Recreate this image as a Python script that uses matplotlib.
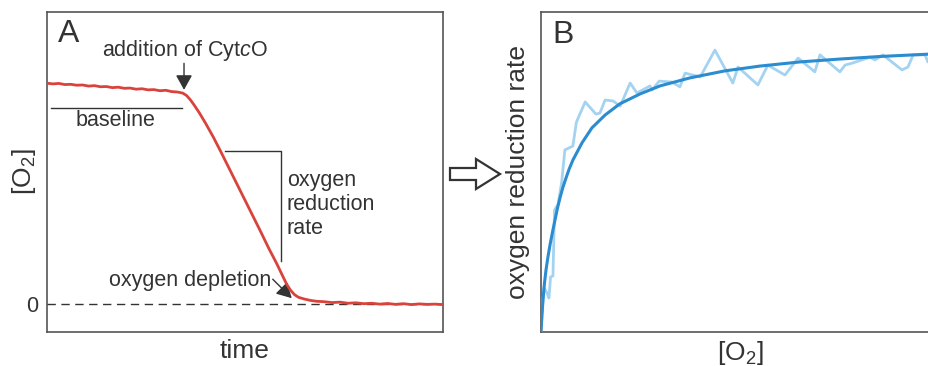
# ------------------------------------------------------------------------------
# -------------------------------------------------------------- IMPORT PACKAGES
import matplotlib as mpl
mpl.use('Agg')
import matplotlib.pyplot as plt
from matplotlib.patches import Polygon

plt.rc('font', family='Liberation Sans', size=15.5)
plt.rc('mathtext', fontset='custom', rm='Liberation Sans',
       it='Liberation Sans:italic')

# ------------------------------------------------------------------------- DATA
# panel A: oxygen trace (time, [O2]) - arbitrary units
time = [0, 1.5, 3, 4.5, 6, 7.5, 9, 10.5, 12, 13.5, 15, 16.5, 18, 19.5, 21,
        22.5, 24, 25.5, 27, 28.5, 30, 31.5, 33, 34.3,
        35.2, 36.2, 37.2, 38.5, 40, 42, 44, 46, 48, 50, 52, 54, 56, 58, 59.5,
        60.5, 61.5, 62.5, 63.5, 65, 66.5, 68, 70, 72, 74, 76, 78, 80, 82, 84,
        86, 88, 90, 92, 94, 96, 98, 100]
o2 = [1.000, 0.997, 0.999, 0.994, 0.995, 0.991, 0.992, 0.987, 0.989, 0.984,
      0.985, 0.980, 0.982, 0.977, 0.978, 0.973, 0.975, 0.970, 0.971, 0.966,
      0.968, 0.962, 0.960, 0.955,
      0.945, 0.925, 0.900, 0.865, 0.820, 0.756, 0.686, 0.614, 0.542, 0.470,
      0.398, 0.326, 0.252, 0.183, 0.127,
      0.090, 0.062, 0.042, 0.030, 0.022, 0.016, 0.012, 0.010, 0.006, 0.008,
      0.003, 0.005, 0.001, 0.003, -0.001, 0.002, -0.002, 0.001, -0.003,
      0.000, -0.002, -0.001, -0.003]

# panel B: measured rate vs [O2] and fitted curve
b_o2 = [0, 0.5, 0.75, 1.5, 2.0, 2.4, 3.0, 3.4, 4.3, 5.2, 6.0, 8.0, 8.9, 11.1,
        13.8, 14.8, 16.1, 18.1, 19.9, 22.4, 24.1, 27.4, 27.9, 29.7, 32.9,
        34.9, 36.2, 40.0, 43.7, 48.2, 49.5, 54.5, 57.0, 61.3, 64.6, 68.8,
        70.1, 75.1, 76.4, 78.4, 82.7, 83.9, 85.9, 90.7, 92.2, 93.5, 96.5,
        97.2, 100.3]
b_rate = [0, 0.100, 0.138, 0.122, 0.106, 0.172, 0.175, 0.381, 0.400, 0.469,
          0.569, 0.581, 0.656, 0.719, 0.681, 0.684, 0.725, 0.722, 0.706,
          0.778, 0.747, 0.769, 0.756, 0.784, 0.781, 0.766, 0.809, 0.797,
          0.881, 0.778, 0.828, 0.772, 0.834, 0.803, 0.856, 0.813, 0.866,
          0.813, 0.834, 0.841, 0.859, 0.850, 0.866, 0.819, 0.828, 0.866,
          0.866, 0.844, 0.850]

fit_o2 = [0, 0.25, 0.5, 0.85, 1.26, 1.75, 2.26, 2.9, 3.52, 4.1, 4.77, 5.5,
          6.28, 7.1, 8.04, 10.3, 12.8, 16.1, 19.8, 24.9, 29.9, 37.4, 46.2,
          55.0, 65.1, 75.1, 85.2, 95.2, 100.3]
fit_rate = [0, 0.055, 0.100, 0.150, 0.194, 0.235, 0.272, 0.313, 0.350, 0.385,
            0.419, 0.452, 0.481, 0.510, 0.538, 0.591, 0.638, 0.678, 0.713,
            0.744, 0.769, 0.794, 0.816, 0.831, 0.844, 0.853, 0.861, 0.867,
            0.870]

# ----------------------------------------------------------------------- COLORS
red = '#d9433b'
dark_blue = '#2b8ccf'
light_blue = '#a3d3f1'
ink = '#333333'
frame = '#555555'

W, H = 929, 366
fig = plt.figure(figsize=(W/100.0, H/100.0), dpi=100)

# ------------------------------------------------------------------- PANEL A
axA = fig.add_axes([47.0/W, 34.0/H, 396.0/W, 320.0/H])
axA.plot(time, o2, '-', color=red, lw=2.0, zorder=5)
axA.axhline(0, color=ink, lw=1.0, dashes=(6, 4), zorder=3)
axA.set_xlim(0, 100)
axA.set_ylim(-28/220.0, 291/220.0)
axA.set_xticks([])
axA.set_yticks([0])
axA.set_yticklabels(['0'], color=ink)
axA.tick_params(axis='y', length=0, pad=6)
axA.set_xlabel('time', fontsize=19, color=ink, labelpad=5)
axA.set_ylabel('[O$_2$]', fontsize=19, color=ink)
axA.yaxis.set_label_coords(-9.0/396, 0.5)

axA.text(2.8, 1.186, 'A', fontsize=23, color=ink, va='baseline')
axA.text(34.8, 1.15, 'addition of Cyt$\\it{c}$O', color=ink,
         ha='center', va='center')
axA.annotate('', xy=(34.6, 0.970), xytext=(34.6, 1.090),
             arrowprops=dict(arrowstyle='-|>,head_length=0.45,head_width=0.25',
                             mutation_scale=20, color=ink, lw=1.0,
                             shrinkA=0, shrinkB=0))
axA.plot([1.0, 34.1], [0.886, 0.886], '-', color=ink, lw=1.0)
axA.text(17.4, 0.832, 'baseline', color=ink, ha='center', va='center')

# bracket for the slope
axA.plot([44.9, 59.1, 59.1], [0.691, 0.691, 0.195], '-', color=ink, lw=1.0)
axA.text(60.6, 0.45, 'oxygen\nreduction\nrate', color=ink, ha='left',
         va='center', linespacing=1.2)

axA.text(56.6, 0.105, 'oxygen depletion', color=ink, ha='right',
         va='center')
axA.annotate('', xy=(61.8, 0.026), xytext=(57.0, 0.112),
             arrowprops=dict(arrowstyle='-|>,head_length=0.45,head_width=0.25',
                             mutation_scale=20, color=ink, lw=1.0,
                             shrinkA=0, shrinkB=0))

# ------------------------------------------------------------------- PANEL B
axB = fig.add_axes([541.0/W, 34.0/H, 398.0/W, 320.0/H])
axB.plot(b_o2, b_rate, '-', color=light_blue, lw=2.0, zorder=4)
axB.plot(fit_o2, fit_rate, '-', color=dark_blue, lw=2.2, zorder=5)
axB.set_xlim(0, 100)
axB.set_ylim(0, 1)
axB.set_xticks([])
axB.set_yticks([])
axB.set_xlabel('[O$_2$]', fontsize=19, color=ink, labelpad=5)
axB.set_ylabel('oxygen reduction rate', fontsize=19, color=ink, labelpad=8)
axB.text(0.028, 0.903, 'B', transform=axB.transAxes, fontsize=23,
         color=ink, va='baseline')

for ax in [axA, axB]:
	for s in ax.spines.values():
		s.set_color(frame)
		s.set_linewidth(1.2)

# ---------------------------------------------------------------- HOLLOW ARROW
pts = [(450, 168), (476, 168), (476, 159), (500, 174), (476, 189),
       (476, 180), (450, 180)]
pts = [(x/float(W), 1.0 - y/float(H)) for x, y in pts]
fig.patches.append(Polygon(pts, closed=True, transform=fig.transFigure,
                           facecolor='white', edgecolor=ink, lw=1.6))

fig.savefig('out.png', dpi=100)
# ------------------------------------------------------------------------------
